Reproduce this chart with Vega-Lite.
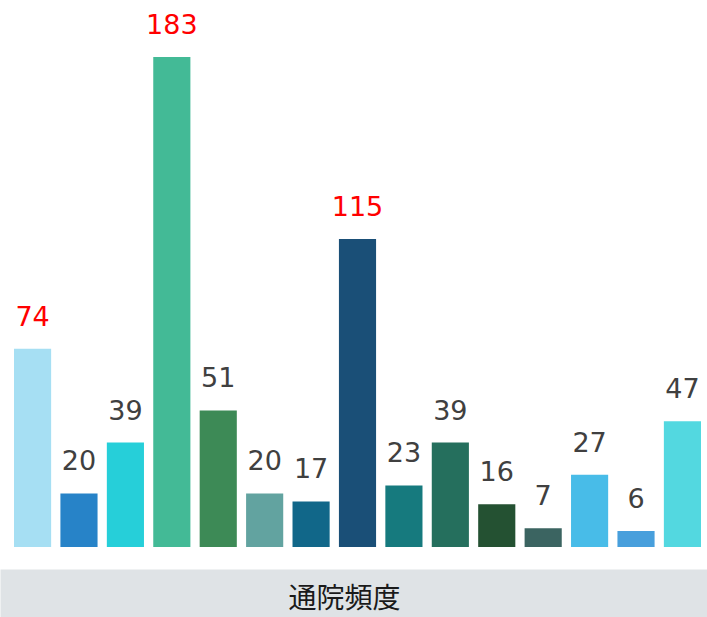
{
  "$schema": "https://vega.github.io/schema/vega-lite/v6.json",
  "width": 707,
  "height": 547,
  "autosize": {"type": "none"},
  "padding": {"left": 0, "top": 0, "right": 0, "bottom": 70},
  "background": "white",
  "config": {"view": {"stroke": null}},
  "data": {"values": [
    {"k": "1", "v": 74}, {"k": "2", "v": 20}, {"k": "3", "v": 39}, {"k": "4", "v": 183},
    {"k": "5", "v": 51}, {"k": "6", "v": 20}, {"k": "7", "v": 17}, {"k": "8", "v": 115},
    {"k": "9", "v": 23}, {"k": "10", "v": 39}, {"k": "11", "v": 16}, {"k": "12", "v": 7},
    {"k": "13", "v": 27}, {"k": "14", "v": 6}, {"k": "15", "v": 47}
  ]},
  "encoding": {
    "x": {
      "field": "k", "type": "ordinal", "sort": null,
      "scale": {"paddingInner": 0.2, "paddingOuter": 0.2154, "align": 0.7},
      "axis": {
        "title": "通院頻度",
        "labels": false, "ticks": false,
        "domain": true, "domainColor": "#dfe3e6", "domainWidth": 48, "domainCap": "butt",
        "offset": 46,
        "titleX": 344, "titleAlign": "center",
        "titleY": 6, "titleBaseline": "middle",
        "titleFont": "Noto Sans CJK JP", "titleFontSize": 28, "titleFontWeight": "normal", "titleColor": "#1a1a1a"
      }
    },
    "y": {
      "field": "v", "type": "quantitative",
      "scale": {"domain": [0, 204.3], "nice": false, "zero": true},
      "axis": null
    }
  },
  "layer": [
    {
      "mark": {"type": "bar"},
      "encoding": {
        "color": {
          "field": "k", "type": "ordinal", "sort": null, "legend": null,
          "scale": {"range": ["#a6dff3", "#2783c8", "#26cfd9", "#43ba96", "#3d8a56", "#62a3a0", "#116789", "#1a4f77", "#167a7e", "#256f5d", "#245132", "#3b6461", "#48bce8", "#489fdc", "#53d8e0"]}
        }
      }
    },
    {
      "mark": {"type": "text", "font": "DejaVu Sans", "fontSize": 27, "baseline": "alphabetic", "dy": -23, "align": "center"},
      "encoding": {
        "text": {"field": "v", "type": "quantitative"},
        "color": {"condition": {"test": "datum.v >= 74", "value": "#ff0000"}, "value": "#404040"}
      }
    }
  ]
}
